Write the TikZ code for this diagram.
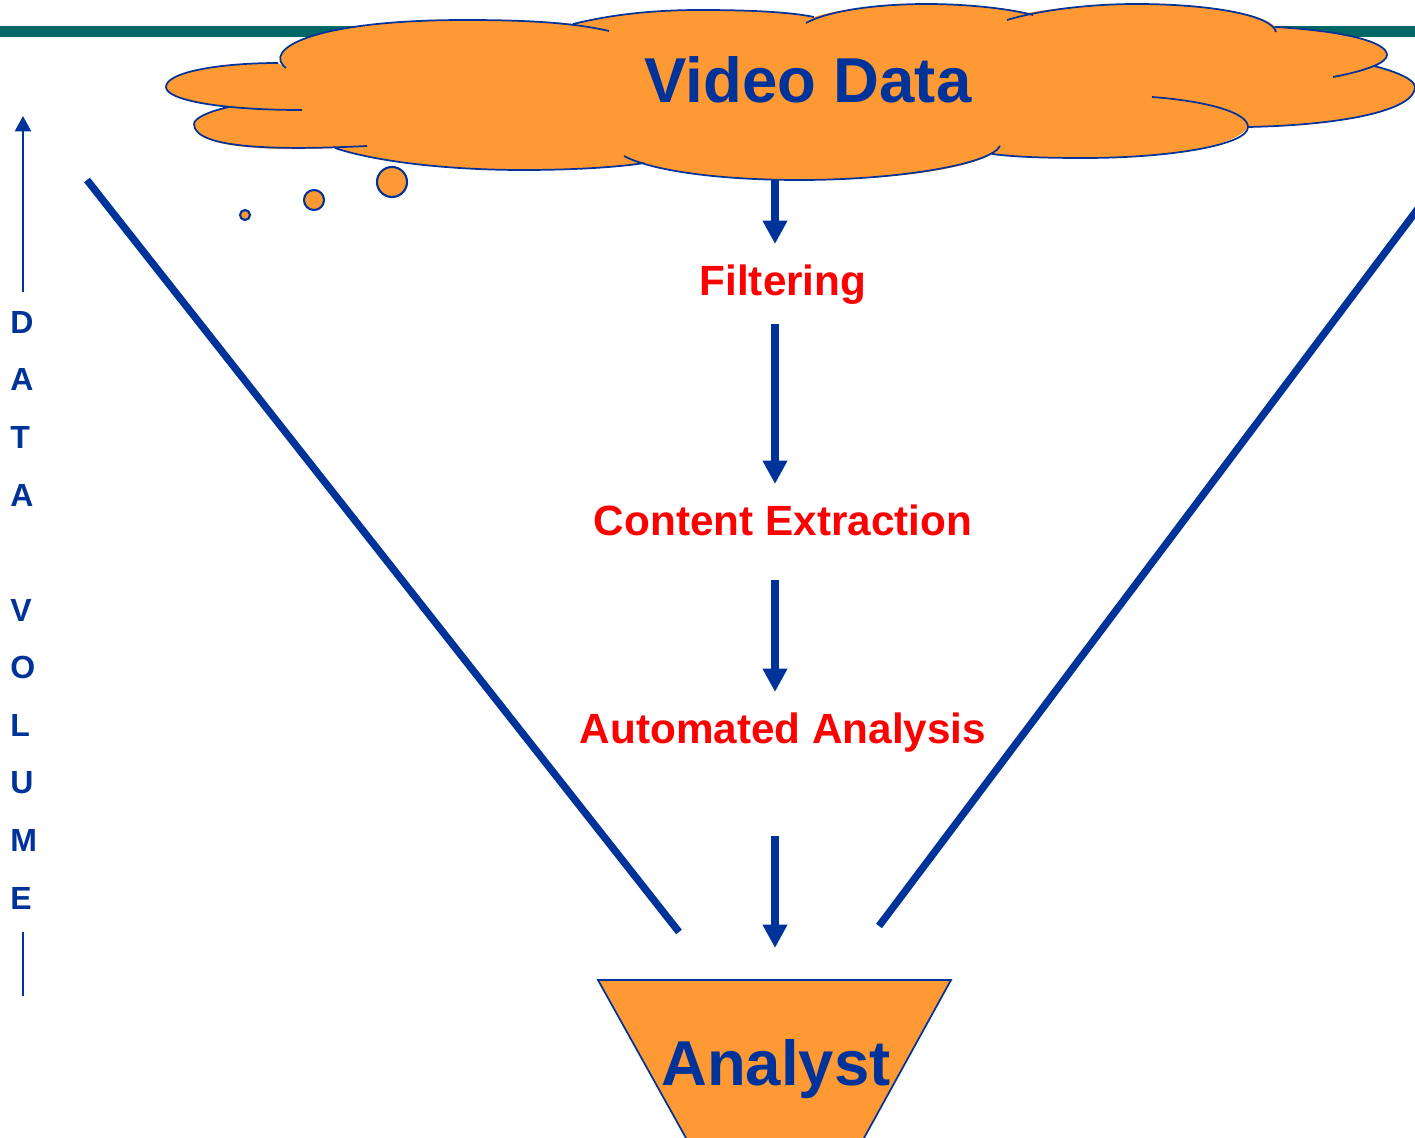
\documentclass[tikz,border=0pt]{standalone}
\usepackage{fontspec}
\setmainfont{Liberation Sans}
\usetikzlibrary{arrows.meta}
\definecolor{bandteal}{HTML}{006666}
\definecolor{cloudorange}{HTML}{FF9933}
\definecolor{inkblue}{HTML}{003399}
\definecolor{stepred}{HTML}{FF0000}
\tikzset{
 cloudline/.style={draw=inkblue,line width=1.3pt},
 cloudfill/.style={fill=cloudorange},
 flow/.style={draw=inkblue,line width=6pt,-{Triangle[length=17.5pt,width=17.5pt]}},
 funnel/.style={draw=inkblue,line width=5.5pt},
 steplabel/.style={text=stepred,font=\bfseries\fontsize{31.7}{36}\selectfont,inner sep=0pt,anchor=base},
 biglabel/.style={text=inkblue,font=\bfseries\fontsize{47.6}{56}\selectfont,inner sep=0pt,anchor=base},
 letter/.style={text=inkblue,font=\bfseries\fontsize{24}{28}\selectfont,inner sep=0pt,anchor=west},
 puff/.style={cloudfill,draw=inkblue,line width=1.6pt},
}
\begin{document}
\begin{tikzpicture}[x=0.75pt,y=-0.75pt]
\useasboundingbox (0,0) rectangle (1415,1138);
\fill[bandteal] (0,26) rectangle (1415,37);
% cloud fill
\path[cloudfill]
 (278,63) -- (286,68) .. controls (262,50) and (310,20) .. (465,20)
 .. controls (510,20) and (550,21) .. (573,24)
 .. controls (610,15) and (650,10) .. (700,10)
 .. controls (750,10) and (790,12) .. (814,17)
 .. controls (840,9) and (880,4) .. (926,4)
 .. controls (970,4) and (1005,8) .. (1028,13)
 .. controls (1055,8) and (1095,4) .. (1136,4)
 .. controls (1210,4) and (1265,14) .. (1275,27)
 .. controls (1345,31) and (1387,42) .. (1387,55)
 .. controls (1387,59) and (1382,63) .. (1374,66)
 .. controls (1398,72) and (1415,80) .. (1415,87)
 .. controls (1415,110) and (1345,125) .. (1248,127)
 .. controls (1235,147) and (1170,158) .. (1084,158)
 .. controls (1045,158) and (1015,157) .. (992,154)
 .. controls (965,170) and (890,180) .. (800,180)
 .. controls (730,180) and (665,172) .. (644,163)
 .. controls (620,167) and (575,170) .. (523,170)
 .. controls (440,170) and (370,160) .. (335,148)
 .. controls (250,152) and (194,145) .. (194,124)
 .. controls (194,118) and (210,111) .. (229,107)
 .. controls (190,103) and (166,97) .. (166,87)
 .. controls (166,72) and (220,63) .. (278,63) -- cycle;
% cloud outline arcs
\coordinate (a0) at (286,68); \coordinate (a1) at (609,31);
\coordinate (b0) at (573,24); \coordinate (b1) at (814,17);
\coordinate (c0) at (806,23); \coordinate (c1) at (1033,15);
\coordinate (d0) at (1007,20); \coordinate (d1) at (1276,32);
\coordinate (e0) at (1275,27); \coordinate (e1) at (1333,77);
\coordinate (f0) at (1374,66); \coordinate (f1) at (1248,127);
\coordinate (g0) at (1152,97); \coordinate (g1) at (992,154);
\coordinate (h0) at (1000,146); \coordinate (h1) at (624,156);
\coordinate (i0) at (644,163); \coordinate (i1) at (335,148);
\coordinate (j0) at (367,146); \coordinate (j1) at (229,107);
\coordinate (k0) at (302,110); \coordinate (k1) at (278,63);
\path[cloudline]
 (a0) .. controls (262,50) and (310,20) .. (465,20) .. controls (520,20) and (570,22) .. (a1)
 (b0) .. controls (610,15) and (650,10) .. (700,10) .. controls (750,10) and (790,12) .. (b1)
 (c0) .. controls (830,10) and (880,4) .. (926,4) .. controls (970,4) and (1010,9) .. (c1)
 (d0) .. controls (1040,10) and (1090,4) .. (1136,4) .. controls (1210,4) and (1272,15) .. (d1)
 (e0) .. controls (1345,31) and (1387,42) .. (1387,55) .. controls (1387,63) and (1365,71) .. (e1)
 (f0) .. controls (1398,72) and (1415,80) .. (1415,87) .. controls (1415,110) and (1345,125) .. (f1)
 (g0) .. controls (1205,101) and (1248,112) .. (1248,127) .. controls (1248,145) and (1170,158) .. (1084,158) .. controls (1045,158) and (1015,157) .. (g1)
 (h0) .. controls (990,165) and (895,180) .. (800,180) .. controls (715,180) and (650,170) .. (h1)
 (i0) .. controls (620,167) and (575,170) .. (523,170) .. controls (440,170) and (370,160) .. (i1)
 (j0) .. controls (265,151) and (194,147) .. (194,124) .. controls (194,118) and (210,111) .. (j1)
 (k0) .. controls (220,110) and (166,100) .. (166,87) .. controls (166,72) and (220,63) .. (k1);
% thought bubbles
\node[puff,circle,minimum size=30pt*0.75,inner sep=0pt] (p1) at (392,182) {};
\node[puff,circle,minimum size=20pt*0.75,inner sep=0pt] (p2) at (314,200) {};
\node[puff,circle,minimum size=10pt*0.75,inner sep=0pt] (p3) at (245,215) {};
% titles
\node[biglabel] (video) at (808,103) {Video Data};
\node[steplabel] (filt) at (783,295) {Filtering};
\node[steplabel] (cont) at (783,535) {Content Extraction};
\node[steplabel] (auto) at (783,743) {Automated Analysis};
% flow arrows
\coordinate (f1a) at (775,180); \coordinate (f1b) at (775,244);
\coordinate (f2a) at (775,324); \coordinate (f2b) at (775,484);
\coordinate (f3a) at (775,580); \coordinate (f3b) at (775,692);
\coordinate (f4a) at (775,836); \coordinate (f4b) at (775,948);
\draw[flow] (f1a) -- (f1b);
\draw[flow] (f2a) -- (f2b);
\draw[flow] (f3a) -- (f3b);
\draw[flow] (f4a) -- (f4b);
% funnel sides
\coordinate (l1) at (87,180); \coordinate (l2) at (679,932);
\coordinate (r1) at (1420,206); \coordinate (r2) at (879,926);
\draw[funnel] (l1) -- (l2);
\draw[funnel] (r1) -- (r2);
% analyst
\path[cloudfill] (598,980) -- (951,980) -- (864,1138) -- (686,1138) -- cycle;
\draw[cloudline] (686,1138) -- (598,980) -- (951,980) -- (864,1138);
\node[biglabel] (analyst) at (776,1085) {Analyst};
% data volume
\coordinate (v1) at (23,292); \coordinate (v2) at (23,116);
\draw[draw=inkblue,line width=1.8pt,-{Triangle[length=11.5pt,width=12pt]}] (v1) -- (v2);
\coordinate (v3) at (23,932); \coordinate (v4) at (23,996);
\draw[draw=inkblue,line width=1.5pt] (v3) -- (v4);
\node[letter] (t1) at (10,322) {D};
\node[letter] (t2) at (10,379.5) {A};
\node[letter] (t3) at (10,437) {T};
\node[letter] (t4) at (10,495) {A};
\node[letter] (t5) at (10,610) {V};
\node[letter] (t6) at (10,667) {O};
\node[letter] (t7) at (10,725) {L};
\node[letter] (t8) at (10,783) {U};
\node[letter] (t9) at (10,840) {M};
\node[letter] (t10) at (10,898) {E};
\end{tikzpicture}
\end{document}
